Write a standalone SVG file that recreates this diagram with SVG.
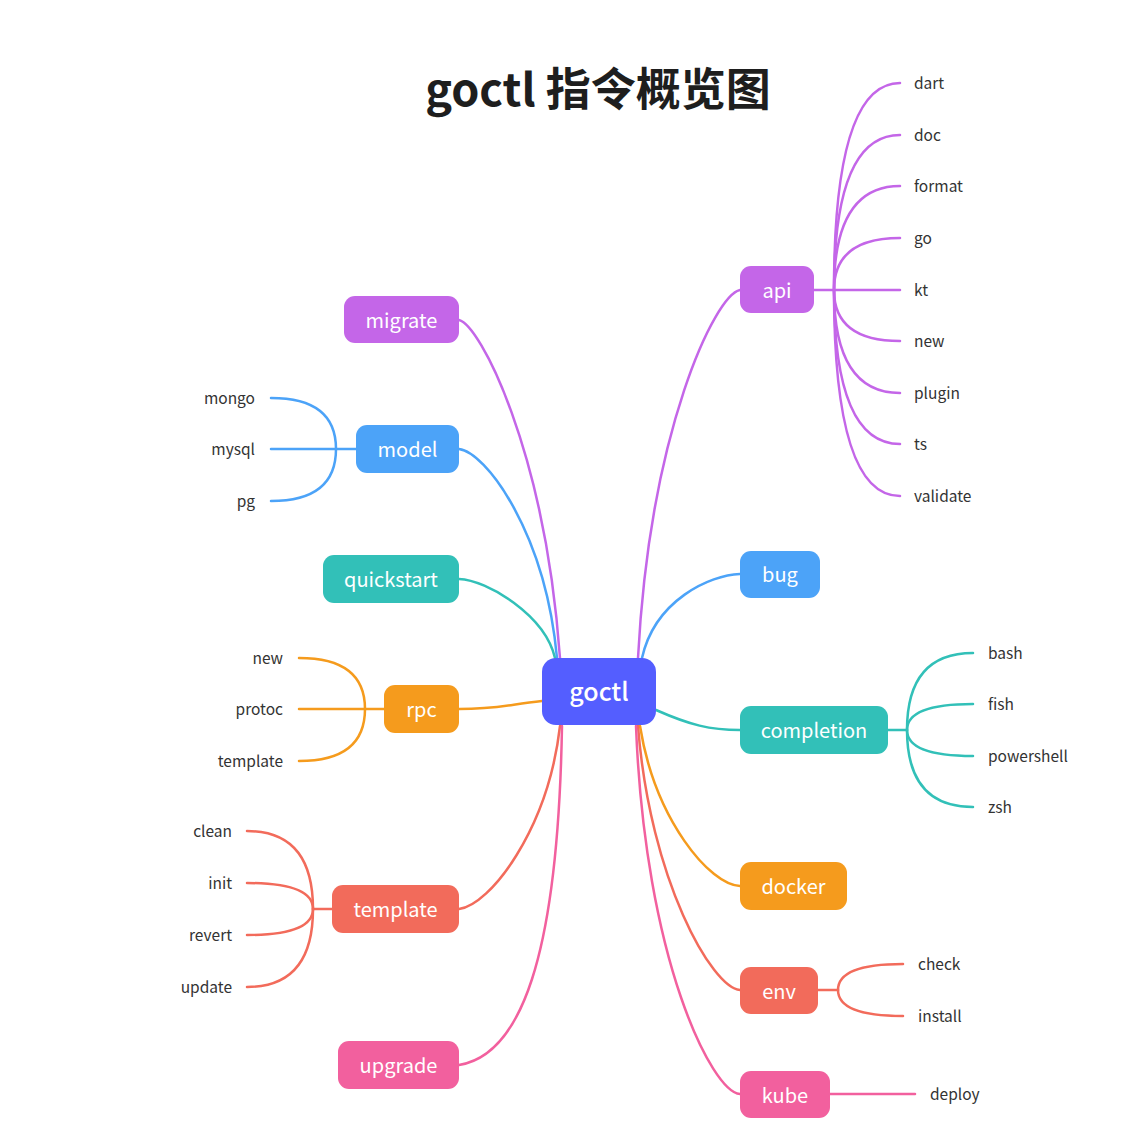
<svg xmlns="http://www.w3.org/2000/svg" width="1142" height="1129" viewBox="0 0 1142 1129">
<style>
text{font-family:"Noto Sans CJK SC","Noto Sans",sans-serif}
.title{font-size:45px;font-weight:700;fill:#1e1e1e}
.nt{font-size:20px;fill:#fff;text-anchor:middle}
.ct{font-size:25px;font-weight:500;fill:#fff;text-anchor:middle}
.lf{font-size:15.5px;fill:#333}
.r{text-anchor:end}
path{fill:none;stroke-width:2.5;stroke-linecap:round}
.pu{stroke:#C466E8}.bl{stroke:#4CA3F8}.te{stroke:#32C0B8}.or{stroke:#F59B1D}.rd{stroke:#F26B5B}.pk{stroke:#F2609E}
</style>
<rect width="1142" height="1129" fill="#fff"/>
<text class="title" x="598" y="106" text-anchor="middle">goctl 指令概览图</text>
<g id="connectors">
<path class="pu" d="M459,320 C480,325 545,450 560,658"/>
<path class="bl" d="M459,449 C485,452 545,530 557,658"/>
<path class="te" d="M459,579 C487,580 545,615 555,658"/>
<path class="or" d="M459,709 C500,709 510,704 542,701"/>
<path class="rd" d="M459,909 C490,905 548,830 560,726"/>
<path class="pk" d="M459,1065 C520,1055 558,960 562,726"/>
<path class="pu" d="M740,290 C715,295 650,430 638,658"/>
<path class="bl" d="M740,574 C710,575 655,600 642,658"/>
<path class="te" d="M656,710 C690,725 710,730 740,730"/>
<path class="or" d="M740,886 C710,885 655,820 640,726"/>
<path class="rd" d="M740,990 C712,988 650,880 638,726"/>
<path class="pk" d="M740,1094 C712,1092 645,960 636,726"/>
<path class="pu" d="M814,290 L900,290"/>
<path class="pu" d="M834,290 Q834,83 900,83"/>
<path class="pu" d="M834,290 Q834,135 900,135"/>
<path class="pu" d="M834,290 Q834,186 900,186"/>
<path class="pu" d="M834,290 Q834,238 900,238"/>
<path class="pu" d="M834,290 Q834,341 900,341"/>
<path class="pu" d="M834,290 Q834,393 900,393"/>
<path class="pu" d="M834,290 Q834,444 900,444"/>
<path class="pu" d="M834,290 Q834,496 900,496"/>
<path class="bl" d="M356,449 L271,449"/>
<path class="bl" d="M336,449 Q336,398 271,398"/>
<path class="bl" d="M336,449 Q336,501 271,501"/>
<path class="or" d="M384,709 L299,709"/>
<path class="or" d="M365,709 Q365,658 299,658"/>
<path class="or" d="M365,709 Q365,761 299,761"/>
<path class="rd" d="M332,909 L313,909"/>
<path class="rd" d="M313,909 Q313,831 247,831"/>
<path class="rd" d="M313,909 Q313,883 247,883"/>
<path class="rd" d="M313,909 Q313,935 247,935"/>
<path class="rd" d="M313,909 Q313,987 247,987"/>
<path class="te" d="M888,730 L907,730"/>
<path class="te" d="M907,730 Q907,653 973,653"/>
<path class="te" d="M907,730 Q907,704 973,704"/>
<path class="te" d="M907,730 Q907,756 973,756"/>
<path class="te" d="M907,730 Q907,807 973,807"/>
<path class="rd" d="M818,990 L838,990"/>
<path class="rd" d="M838,990 Q838,964 903,964"/>
<path class="rd" d="M838,990 Q838,1016 903,1016"/>
<path class="pk" d="M830,1094 L915,1094"/>
</g>
<g id="goctl"><rect x="542" y="658" width="114" height="67" rx="14" fill="#545EFF"/><text class="ct" x="599" y="701">goctl</text></g>
<g id="migrate"><rect x="344" y="296" width="115" height="47" rx="11" fill="#C466E8"/><text class="nt" x="401.5" y="328">migrate</text></g>
<g id="model"><rect x="356" y="425" width="103" height="48" rx="11" fill="#4CA3F8"/><text class="nt" x="407.5" y="457">model</text></g>
<g id="quickstart"><rect x="323" y="555" width="136" height="48" rx="11" fill="#32C0B8"/><text class="nt" x="391" y="587">quickstart</text></g>
<g id="rpc"><rect x="384" y="685" width="75" height="48" rx="11" fill="#F59B1D"/><text class="nt" x="421.5" y="717">rpc</text></g>
<g id="template"><rect x="332" y="885" width="127" height="48" rx="11" fill="#F26B5B"/><text class="nt" x="395.5" y="917">template</text></g>
<g id="upgrade"><rect x="338" y="1041" width="121" height="48" rx="11" fill="#F2609E"/><text class="nt" x="398.5" y="1073">upgrade</text></g>
<g id="api"><rect x="740" y="266" width="74" height="47" rx="11" fill="#C466E8"/><text class="nt" x="777" y="298">api</text></g>
<g id="bug"><rect x="740" y="551" width="80" height="47" rx="11" fill="#4CA3F8"/><text class="nt" x="780" y="582">bug</text></g>
<g id="completion"><rect x="740" y="706" width="148" height="48" rx="11" fill="#32C0B8"/><text class="nt" x="814" y="738">completion</text></g>
<g id="docker"><rect x="740" y="862" width="107" height="48" rx="11" fill="#F59B1D"/><text class="nt" x="793.5" y="894">docker</text></g>
<g id="env"><rect x="740" y="967" width="78" height="47" rx="11" fill="#F26B5B"/><text class="nt" x="779" y="999">env</text></g>
<g id="kube"><rect x="740" y="1071" width="90" height="47" rx="11" fill="#F2609E"/><text class="nt" x="785" y="1103">kube</text></g>
<g id="api-leaves">
<text class="lf" x="914" y="89">dart</text>
<text class="lf" x="914" y="141">doc</text>
<text class="lf" x="914" y="192">format</text>
<text class="lf" x="914" y="244">go</text>
<text class="lf" x="914" y="296">kt</text>
<text class="lf" x="914" y="347">new</text>
<text class="lf" x="914" y="399">plugin</text>
<text class="lf" x="914" y="450">ts</text>
<text class="lf" x="914" y="502">validate</text>
</g>
<g id="model-leaves">
<text class="lf r" x="255" y="404">mongo</text>
<text class="lf r" x="255" y="455">mysql</text>
<text class="lf r" x="255" y="507">pg</text>
</g>
<g id="rpc-leaves">
<text class="lf r" x="283" y="664">new</text>
<text class="lf r" x="283" y="715">protoc</text>
<text class="lf r" x="283" y="767">template</text>
</g>
<g id="template-leaves">
<text class="lf r" x="232" y="837">clean</text>
<text class="lf r" x="232" y="889">init</text>
<text class="lf r" x="232" y="941">revert</text>
<text class="lf r" x="232" y="993">update</text>
</g>
<g id="completion-leaves">
<text class="lf" x="988" y="659">bash</text>
<text class="lf" x="988" y="710">fish</text>
<text class="lf" x="988" y="762">powershell</text>
<text class="lf" x="988" y="813">zsh</text>
</g>
<g id="env-leaves">
<text class="lf" x="918" y="970">check</text>
<text class="lf" x="918" y="1022">install</text>
</g>
<g id="kube-leaves">
<text class="lf" x="930" y="1100">deploy</text>
</g>
</svg>
